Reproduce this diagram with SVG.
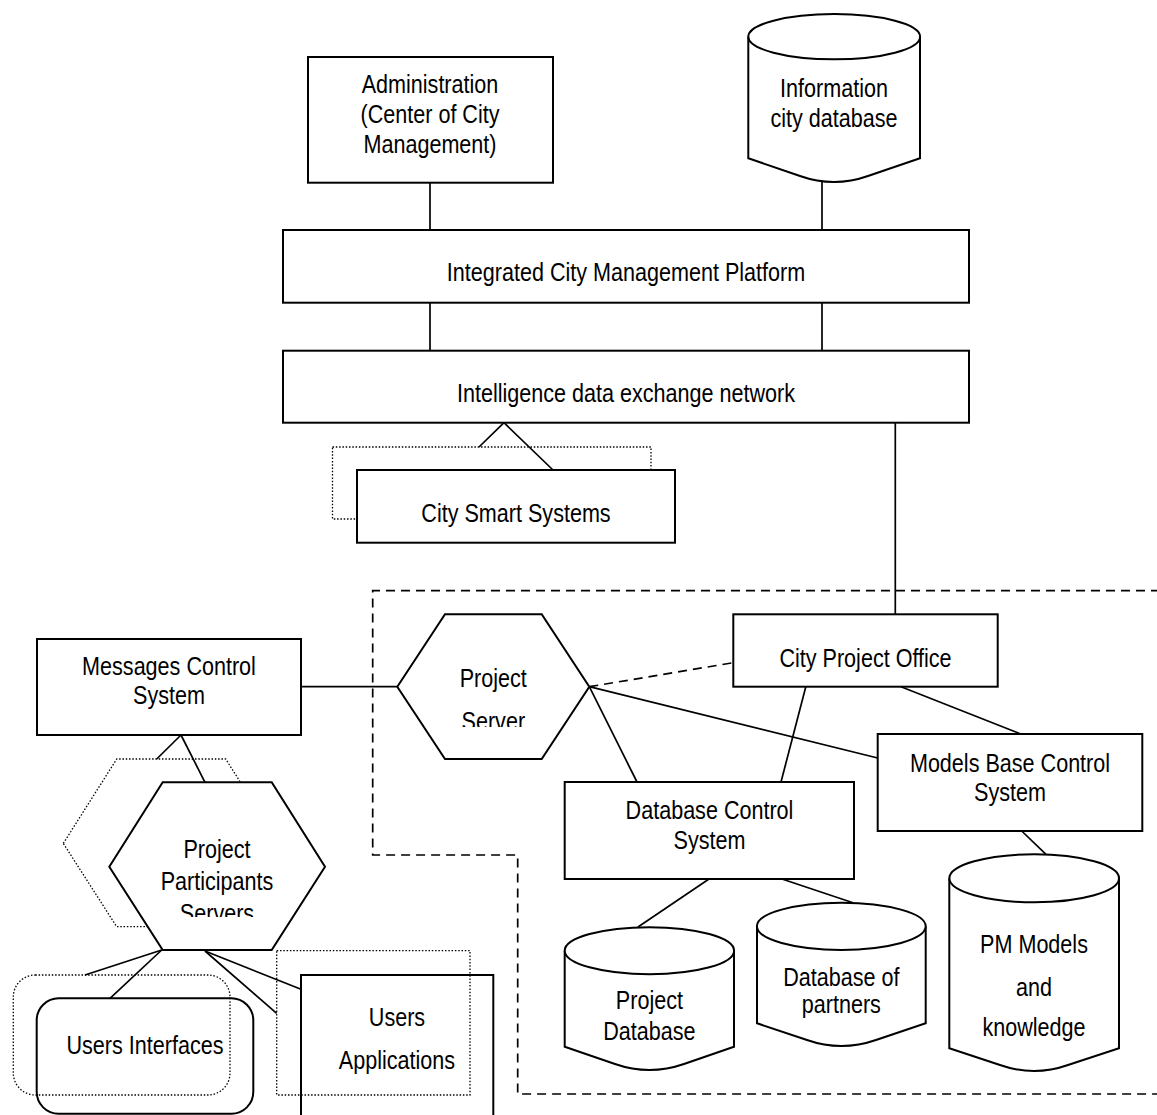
<svg xmlns="http://www.w3.org/2000/svg" width="1157" height="1115" viewBox="0 0 1157 1115">
<style>
.box{fill:#fff;stroke:#000;stroke-width:2}
.open{fill:none;stroke:#000;stroke-width:2}
.dot{fill:none;stroke:#000;stroke-width:1.3;stroke-dasharray:1.5 1.8}
.ln{stroke:#000;stroke-width:1.7;fill:none}
.dash{stroke:#000;stroke-width:1.7;fill:none;stroke-dasharray:9 6}
.t{font-family:"Liberation Sans",Arial,sans-serif;font-size:26px;fill:#000;text-anchor:middle}
</style>
<defs>
<clipPath id="clipPS"><rect x="397" y="600" width="193" height="127"/></clipPath>
<clipPath id="clipPPS"><rect x="100" y="770" width="230" height="147"/></clipPath>
</defs>
<rect width="1157" height="1115" fill="#fff"/>

<g id="boundary">
<path class="dash" d="M1160 590.7 H372.7 V855 H517.7 V1094 H1160"/>
</g>

<g id="connectors">
<line class="ln" x1="430" y1="182.7" x2="430" y2="230"/>
<line class="ln" x1="822" y1="180" x2="822" y2="230"/>
<line class="ln" x1="430" y1="302.7" x2="430" y2="350.7"/>
<line class="ln" x1="822" y1="302.7" x2="822" y2="350.7"/>
<line class="ln" x1="504" y1="422.7" x2="479" y2="447"/>
<line class="ln" x1="504" y1="422.7" x2="553" y2="470"/>
<line class="ln" x1="895.3" y1="422.7" x2="895.3" y2="614.3"/>
<line class="ln" x1="301" y1="686.7" x2="397.3" y2="686.7"/>
<line class="dash" x1="589.3" y1="686.7" x2="733.3" y2="662.7"/>
<line class="ln" x1="589.3" y1="686.7" x2="877.7" y2="758"/>
<line class="ln" x1="589.3" y1="686.7" x2="637" y2="782"/>
<line class="ln" x1="805.8" y1="686.7" x2="781" y2="782"/>
<line class="ln" x1="901" y1="686.7" x2="1020.8" y2="734"/>
<line class="ln" x1="1021.7" y1="831" x2="1046" y2="854.3"/>
<line class="ln" x1="709" y1="879" x2="638" y2="927"/>
<line class="ln" x1="782" y1="879" x2="853" y2="902.7"/>
<line class="ln" x1="181" y1="735" x2="156.7" y2="759"/>
<line class="ln" x1="181" y1="735" x2="205" y2="782.3"/>
<line class="ln" x1="161.7" y1="950" x2="85" y2="975"/>
<line class="ln" x1="161.7" y1="950" x2="110" y2="998.3"/>
<line class="ln" x1="205" y1="951" x2="301" y2="989.3"/>
<line class="ln" x1="205" y1="951" x2="276.7" y2="1013.3"/>
</g>

<g id="administration">
<rect class="box" x="308" y="57" width="245" height="125.7"/>
<text class="t" transform="translate(430 93.3) scale(0.83 1)">Administration</text>
<text class="t" transform="translate(430 123.3) scale(0.83 1)">(Center of City</text>
<text class="t" transform="translate(430 153.3) scale(0.83 1)">Management)</text>
</g>

<g id="info-city-db">
<path class="box" d="M748.3 36.7 V158.3 L800 176 Q834 188 868 176 L920 158.3 V36.7"/>
<ellipse class="box" cx="834.2" cy="36.7" rx="85.9" ry="22.6"/>
<text class="t" transform="translate(834 96.7) scale(0.83 1)">Information</text>
<text class="t" transform="translate(834 126.7) scale(0.83 1)">city database</text>
</g>

<g id="platform">
<rect class="box" x="283" y="230" width="686" height="72.7"/>
<text class="t" transform="translate(626 281) scale(0.83 1)">Integrated City Management Platform</text>
</g>

<g id="network">
<rect class="box" x="283" y="350.7" width="686" height="72"/>
<text class="t" transform="translate(626 401.5) scale(0.83 1)">Intelligence data exchange network</text>
</g>

<g id="city-smart-systems">
<rect class="dot" x="332.5" y="447" width="318.5" height="72"/>
<rect class="box" x="357" y="470" width="318" height="72.7"/>
<text class="t" transform="translate(516 521.7) scale(0.83 1)">City Smart Systems</text>
</g>

<g id="messages-control">
<rect class="box" x="37" y="639" width="264" height="96"/>
<text class="t" transform="translate(169 675) scale(0.83 1)">Messages Control</text>
<text class="t" transform="translate(169 704) scale(0.83 1)">System</text>
</g>

<g id="project-server">
<polygon class="box" points="397.3,686.7 445,614.3 541.7,614.3 589.3,686.7 541.7,759 445,759"/>
<g clip-path="url(#clipPS)">
<text class="t" transform="translate(493.3 686.7) scale(0.83 1)">Project</text>
<text class="t" transform="translate(493.3 730) scale(0.83 1)">Server</text>
</g>
</g>

<g id="city-project-office">
<rect class="box" x="733.3" y="614.3" width="264.4" height="72.4"/>
<text class="t" transform="translate(865.5 667) scale(0.83 1)">City Project Office</text>
</g>

<g id="models-base-control">
<rect class="box" x="877.7" y="734" width="264.6" height="97"/>
<text class="t" transform="translate(1010 772) scale(0.83 1)">Models Base Control</text>
<text class="t" transform="translate(1010 801) scale(0.83 1)">System</text>
</g>

<g id="database-control">
<rect class="box" x="564.7" y="782" width="289.3" height="97"/>
<text class="t" transform="translate(709.5 819) scale(0.83 1)">Database Control</text>
<text class="t" transform="translate(709.5 849) scale(0.83 1)">System</text>
</g>

<g id="project-database">
<path class="box" d="M564.7 950.7 V1046.7 L615 1064 Q649.4 1076 684 1064 L734 1046.7 V950.7"/>
<ellipse class="box" cx="649.4" cy="950.7" rx="84.7" ry="23.5"/>
<text class="t" transform="translate(649.4 1008.5) scale(0.83 1)">Project</text>
<text class="t" transform="translate(649.4 1040) scale(0.83 1)">Database</text>
</g>

<g id="partners-database">
<path class="box" d="M757 926.3 V1023.3 L807 1040 Q841.3 1052 876 1040 L925.7 1023.3 V926.3"/>
<ellipse class="box" cx="841.3" cy="926.3" rx="84.4" ry="23.6"/>
<text class="t" transform="translate(841.3 986) scale(0.83 1)">Database of</text>
<text class="t" transform="translate(841.3 1013.3) scale(0.83 1)">partners</text>
</g>

<g id="pm-models">
<path class="box" d="M949.3 878.3 V1048.3 L1000 1065 Q1034 1077 1068 1065 L1119 1048.3 V878.3"/>
<ellipse class="box" cx="1034.2" cy="878.3" rx="84.8" ry="24"/>
<text class="t" transform="translate(1034 953) scale(0.83 1)">PM Models</text>
<text class="t" transform="translate(1034 996) scale(0.83 1)">and</text>
<text class="t" transform="translate(1034 1036) scale(0.83 1)">knowledge</text>
</g>

<g id="participants-servers">
<polygon class="dot" points="63.3,843.4 116.7,759 225.7,759 279,843.4 225.7,926.7 116.7,926.7"/>
<polygon class="box" points="109.3,866.7 162.7,782.3 271.7,782.3 325,866.7 271.7,950 162.7,950"/>
<g clip-path="url(#clipPPS)">
<text class="t" transform="translate(217 858.3) scale(0.83 1)">Project</text>
<text class="t" transform="translate(217 890) scale(0.83 1)">Participants</text>
<text class="t" transform="translate(217 921.6) scale(0.83 1)">Servers</text>
</g>
</g>

<g id="users-interfaces">
<rect class="open" x="36.7" y="998.3" width="216.6" height="115.5" rx="22" ry="22"/>
<rect class="dot" x="13.3" y="975" width="216.7" height="120" rx="22" ry="22"/>
<text class="t" transform="translate(145 1054) scale(0.83 1)">Users Interfaces</text>
</g>

<g id="users-applications">
<rect class="open" x="301" y="975" width="192.3" height="160"/>
<rect class="dot" x="276.7" y="950.7" width="193.3" height="144.3"/>
<text class="t" transform="translate(397 1026) scale(0.83 1)">Users</text>
<text class="t" transform="translate(397 1069.3) scale(0.83 1)">Applications</text>
</g>
</svg>
